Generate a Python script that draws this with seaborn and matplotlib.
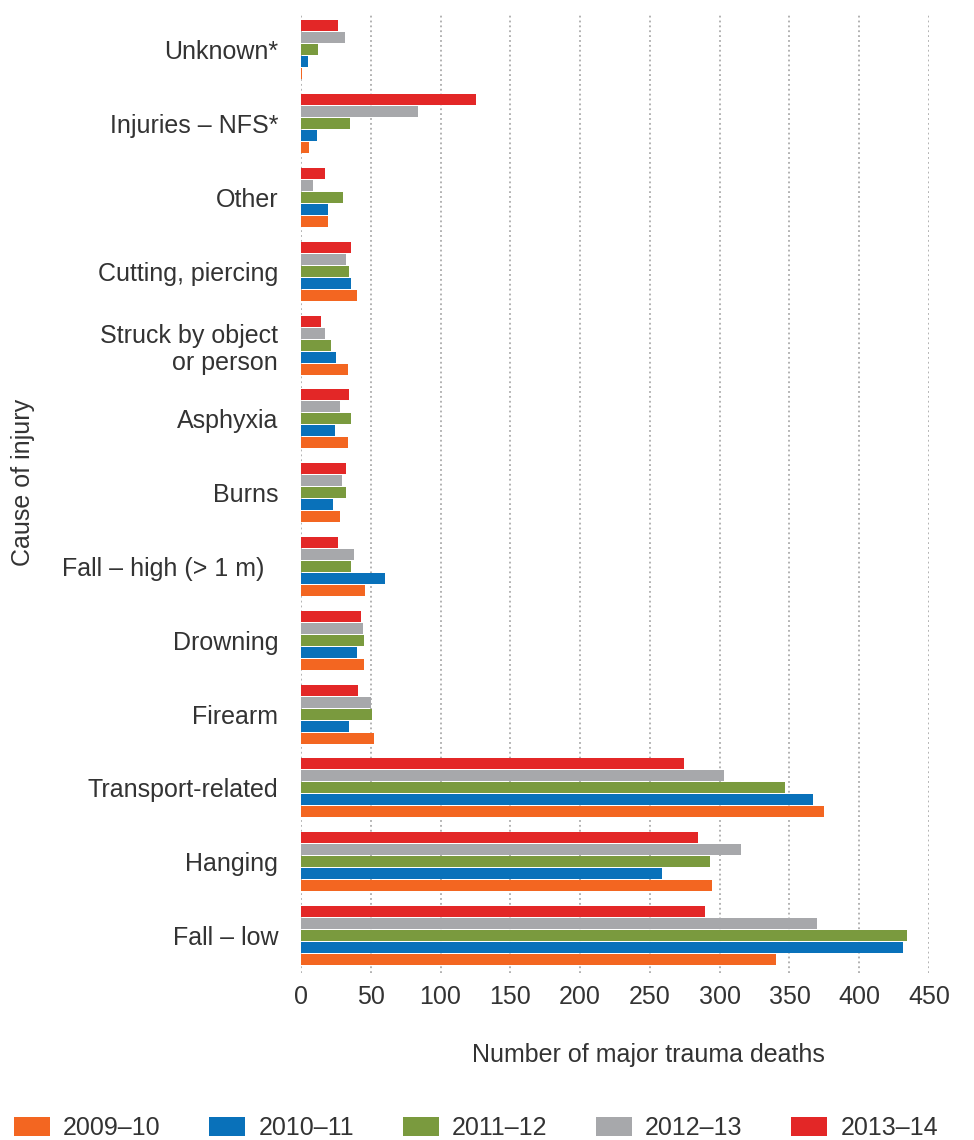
import matplotlib
matplotlib.use("Agg")
import matplotlib.pyplot as plt
from matplotlib.patches import Patch
import pandas as pd
import seaborn as sns

# Categories (top to bottom) and deaths per financial year
causes = ["Unknown*", "Injuries – NFS*", "Other", "Cutting, piercing",
          "Struck by object\nor person", "Asphyxia", "Burns",
          "Fall – high (> 1 m)  ", "Drowning", "Firearm",
          "Transport-related", "Hanging", "Fall – low"]
years = ["2009–10", "2010–11", "2011–12", "2012–13", "2013–14"]

deaths_2009_10 = [0.5, 6, 19, 40, 34, 34, 28, 46, 45, 52, 374.5, 294.5, 340.5]
deaths_2010_11 = [5, 11.5, 19, 36, 25, 24.5, 23, 60, 40, 34.5, 367, 258.5, 431.5]
deaths_2011_12 = [12, 35, 30, 34.5, 21.5, 36, 32, 36, 45, 51, 347, 293, 434.5]
deaths_2012_13 = [31.5, 84, 8.5, 32, 17, 28, 29.5, 38, 44.5, 50, 303, 315, 369.5]
deaths_2013_14 = [26.5, 125.5, 17, 36, 14, 34.5, 32, 26.5, 43, 41, 274.5, 284.5, 289.5]

colors = ["#F36621", "#0971BA", "#7A9A3E", "#A7A8AB", "#E32727"]

series = [deaths_2009_10, deaths_2010_11, deaths_2011_12, deaths_2012_13, deaths_2013_14]
rows = []
for yr, vals in zip(years, series):
    for c, v in zip(causes, vals):
        rows.append({"cause": c, "year": yr, "deaths": v})
df = pd.DataFrame(rows)
palette = dict(zip(years, colors))

sns.set_theme(style="white")
plt.rcParams["font.family"] = ["Liberation Sans", "DejaVu Sans"]
text_col = "#333333"

fig = plt.figure(figsize=(9.74, 11.4), dpi=100)
ax = fig.add_axes([301 / 974, 1 - 972.5 / 1140, 628 / 974, 959.5 / 1140])

sns.barplot(data=df, y="cause", x="deaths", hue="year", order=causes,
            hue_order=years[::-1], palette=palette, orient="y",
            width=0.813, gap=0.083, saturation=1, linewidth=0,
            legend=False, ax=ax)

ax.set_xlim(0, 450)
ax.set_ylim(12.5, -0.5)
ax.set_xticks(range(0, 451, 50))
ax.xaxis.grid(True, linestyle=(0, (1, 1.7)), linewidth=1.3, color="#ababab")
ax.yaxis.grid(False)
ax.set_axisbelow(True)
for s in ax.spines.values():
    s.set_visible(False)
ax.tick_params(axis="x", length=0, pad=9, labelsize=18, labelcolor=text_col)
ax.tick_params(axis="y", length=0, pad=16.5, labelsize=18, labelcolor=text_col)
ax.set_xlabel("")
ax.set_ylabel("")

fig.text(648 / 974, 1 - 1055 / 1140, "Number of major trauma deaths",
         ha="center", va="center", fontsize=18, color=text_col)
fig.text(23 / 974, 1 - 482 / 1140, "Cause of injury", rotation=90,
         ha="center", va="center", fontsize=18, color=text_col)

handles = [Patch(facecolor=palette[y], edgecolor="none") for y in years]
fig.legend(handles, years, loc="center left", ncol=5,
           bbox_to_anchor=(14 / 974, 1 - 1128 / 1140), frameon=False,
           fontsize=18, labelcolor=text_col, handlelength=1.44,
           handleheight=0.76, handletextpad=0.52, columnspacing=1.95,
           borderpad=0, borderaxespad=0)

fig.savefig("out.png", dpi=100)
